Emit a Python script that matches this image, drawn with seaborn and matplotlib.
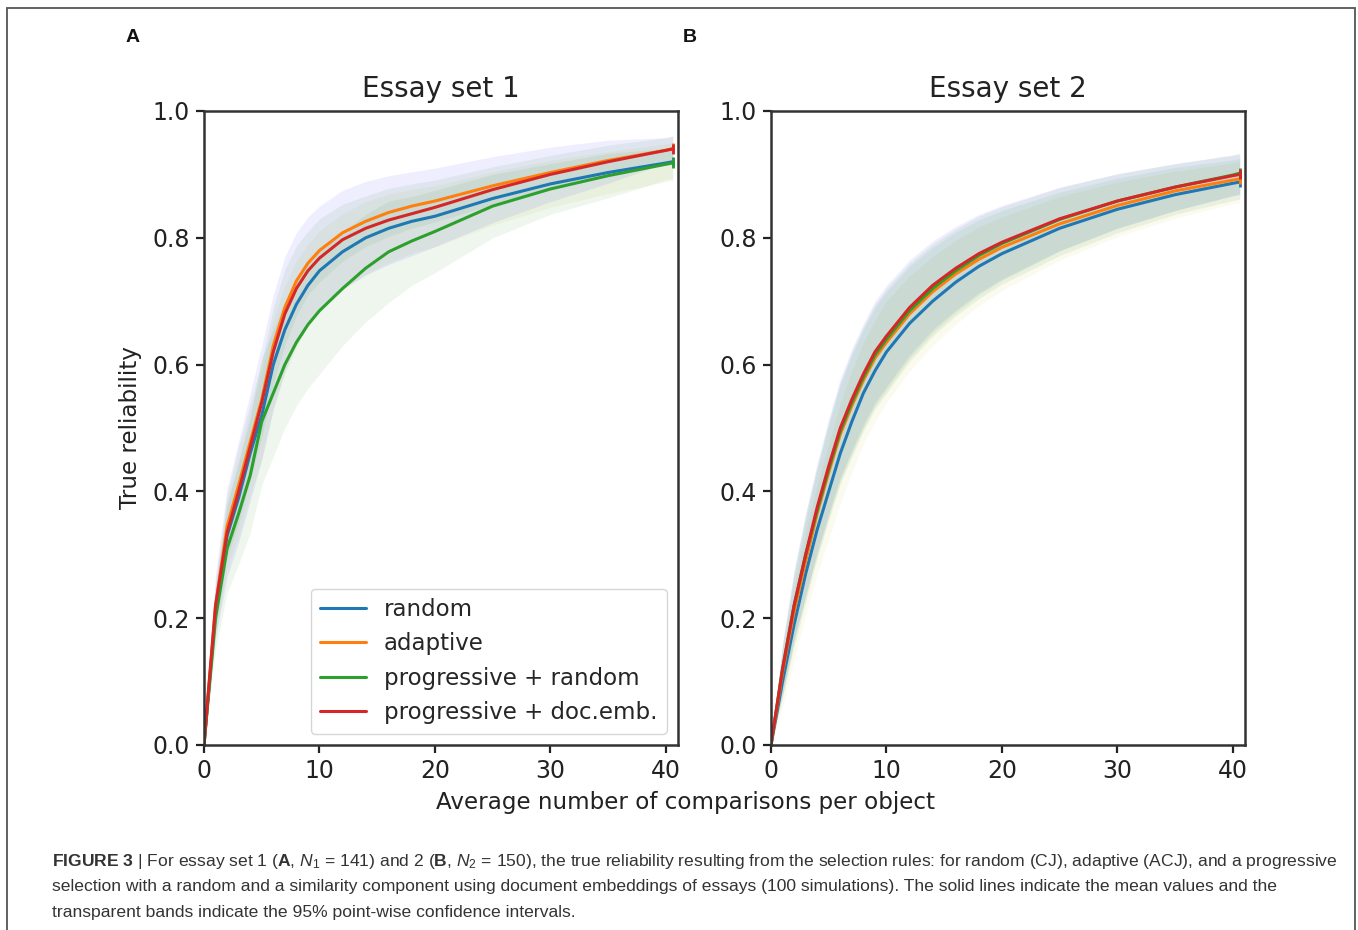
import matplotlib
matplotlib.use("Agg")
import matplotlib.pyplot as plt
import seaborn as sns
import pandas as pd
import numpy as np
from matplotlib.patches import Rectangle

# ---- data ----
methods = ["random", "adaptive", "progressive + random", "progressive + doc.emb."]
line_colors = ["#1f77b4", "#ff7f0e", "#2ca02c", "#d62728"]
band_colors = ["y", "g", "g", "b"]

x_grid = [0, 1, 2, 3, 4, 5, 6, 7, 8, 9, 10, 12, 14, 16, 18, 20, 25, 30, 35, 40, 40.6]

# Essay set 1 (mean true reliability)
set1_random = [0, 0.21, 0.33, 0.39, 0.46, 0.52, 0.60, 0.655, 0.695, 0.725, 0.748, 0.778, 0.80, 0.815, 0.826, 0.834, 0.862, 0.885, 0.903, 0.918, 0.92]
set1_adaptive = [0, 0.22, 0.345, 0.41, 0.478, 0.545, 0.63, 0.69, 0.732, 0.76, 0.78, 0.808, 0.826, 0.84, 0.85, 0.858, 0.882, 0.903, 0.922, 0.938, 0.941]
set1_prog_random = [0, 0.20, 0.31, 0.365, 0.425, 0.51, 0.555, 0.60, 0.635, 0.663, 0.685, 0.72, 0.752, 0.778, 0.795, 0.81, 0.85, 0.877, 0.898, 0.916, 0.918]
set1_prog_docemb = [0, 0.22, 0.335, 0.40, 0.47, 0.54, 0.62, 0.68, 0.72, 0.748, 0.768, 0.797, 0.815, 0.828, 0.838, 0.848, 0.876, 0.90, 0.92, 0.938, 0.94]

# Essay set 1 (half-width of 95% band)
set1_ci_random = [0, 0.04, 0.05, 0.06, 0.065, 0.07, 0.07, 0.07, 0.068, 0.065, 0.063, 0.06, 0.057, 0.054, 0.05, 0.048, 0.042, 0.037, 0.033, 0.03, 0.03]
set1_ci_adaptive = [0, 0.04, 0.05, 0.06, 0.06, 0.06, 0.06, 0.06, 0.055, 0.05, 0.05, 0.045, 0.04, 0.038, 0.035, 0.033, 0.03, 0.027, 0.024, 0.02, 0.02]
set1_ci_prog_random = [0, 0.05, 0.07, 0.08, 0.09, 0.10, 0.10, 0.10, 0.10, 0.10, 0.10, 0.09, 0.085, 0.08, 0.07, 0.065, 0.05, 0.04, 0.035, 0.025, 0.025]
set1_ci_prog_docemb = [0, 0.05, 0.07, 0.08, 0.085, 0.09, 0.09, 0.09, 0.088, 0.085, 0.082, 0.078, 0.074, 0.07, 0.066, 0.062, 0.052, 0.043, 0.034, 0.02, 0.02]

# Essay set 2 (mean true reliability)
set2_random = [0, 0.10, 0.19, 0.27, 0.34, 0.40, 0.46, 0.51, 0.555, 0.59, 0.62, 0.665, 0.70, 0.73, 0.755, 0.775, 0.815, 0.845, 0.868, 0.886, 0.888]
set2_adaptive = [0, 0.115, 0.21, 0.29, 0.365, 0.43, 0.49, 0.535, 0.575, 0.61, 0.635, 0.68, 0.715, 0.743, 0.766, 0.785, 0.822, 0.851, 0.874, 0.891, 0.893]
set2_prog_random = [0, 0.12, 0.22, 0.30, 0.37, 0.435, 0.495, 0.54, 0.58, 0.615, 0.64, 0.685, 0.72, 0.748, 0.772, 0.791, 0.829, 0.858, 0.88, 0.899, 0.902]
set2_prog_docemb = [0, 0.12, 0.22, 0.30, 0.375, 0.44, 0.50, 0.545, 0.585, 0.62, 0.645, 0.69, 0.725, 0.752, 0.775, 0.793, 0.83, 0.858, 0.88, 0.898, 0.90]

# Essay set 2 (half-width of 95% band, similar for all rules)
set2_ci = [0, 0.04, 0.055, 0.065, 0.07, 0.075, 0.078, 0.08, 0.08, 0.08, 0.08, 0.075, 0.07, 0.066, 0.062, 0.058, 0.05, 0.043, 0.037, 0.032, 0.032]

panels = [
    ("Essay set 1", [set1_random, set1_adaptive, set1_prog_random, set1_prog_docemb],
     [set1_ci_random, set1_ci_adaptive, set1_ci_prog_random, set1_ci_prog_docemb]),
    ("Essay set 2", [set2_random, set2_adaptive, set2_prog_random, set2_prog_docemb],
     [set2_ci, set2_ci, set2_ci, set2_ci]),
]

# ---- style ----
sns.set_style("ticks")
plt.rcParams['font.family'] = ['DejaVu Sans']
plt.rcParams['mathtext.fontset'] = 'custom'
plt.rcParams['mathtext.rm'] = 'Liberation Sans'
plt.rcParams['mathtext.it'] = 'Liberation Sans:italic'
plt.rcParams['mathtext.bf'] = 'Liberation Sans:bold'

W, H = 1358, 930
fig = plt.figure(figsize=(W / 100, H / 100), dpi=100)
fig.patch.set_facecolor("white")

ax_left = [204, 771]
ax_w, ax_top, ax_bot = 474, 111, 745

x = np.array(x_grid)
for i, (title, means, cis) in enumerate(panels):
    ax = fig.add_axes([ax_left[i] / W, 1 - ax_bot / H, ax_w / W, (ax_bot - ax_top) / H])

    # confidence bands
    for mean, ci, bc in zip(means, cis, band_colors):
        m, c = np.array(mean), np.array(ci)
        ax.fill_between(x, m - c, m + c, color=bc, alpha=0.065, lw=0)

    df = pd.DataFrame({
        "x": x_grid * len(methods),
        "reliability": sum(means, []),
        "method": np.repeat(methods, len(x_grid)),
    })
    sns.lineplot(data=df, x="x", y="reliability", hue="method", hue_order=methods,
                 palette=line_colors, linewidth=2.2, ax=ax, legend=(i == 0), errorbar=None)

    # small end marks of each line
    for mean, lc in zip(means, line_colors):
        ax.plot(x_grid[-1], mean[-1], marker="|", ms=7, mew=2, color=lc)

    ax.set_xlim(0, 41.05)
    ax.set_ylim(0, 1)
    ax.set_xticks([0, 10, 20, 30, 40])
    ax.set_yticks([0, 0.2, 0.4, 0.6, 0.8, 1.0])
    ax.set_yticklabels([f"{v:.1f}" for v in [0, 0.2, 0.4, 0.6, 0.8, 1.0]])
    ax.set_xlabel("")
    ax.set_ylabel("")
    ax.set_title(title, fontsize=20, pad=10, color="#222222")
    ax.tick_params(labelsize=17, length=6, width=1.6, colors="#222222", pad=4)
    for sp in ax.spines.values():
        sp.set_linewidth(1.8)
        sp.set_color("#333333")

    if i == 0:
        handles, labels = ax.get_legend_handles_labels()
        leg = ax.legend(handles, labels, loc="lower right", fontsize=16.5,
                        handlelength=2.0, labelspacing=0.5, frameon=True, fancybox=True)
        leg.get_frame().set_edgecolor("#cccccc")
        for h in leg.get_lines():
            h.set_linewidth(2.2)

# shared labels
fig.text(130 / W, 1 - 428 / H, "True reliability", rotation=90, ha="center", va="center",
         fontsize=16.6, color="#222222")
fig.text(686 / W, 1 - 802 / H, "Average number of comparisons per object", ha="center",
         va="center", fontsize=16.6, color="#222222")

# panel letters
for letter, px in [("A", 133), ("B", 690)]:
    fig.text(px / W, 1 - 37 / H, letter, ha="center", va="center", fontsize=14,
             fontweight="bold", family="Liberation Sans", color="#111111")

# caption
caption = [
    r"$\mathbf{FIGURE\ 3}$ | For essay set 1 ($\mathbf{A}$, $N_1$ = 141) and 2 ($\mathbf{B}$, $N_2$ = 150), "
    r"the true reliability resulting from the selection rules: for random (CJ), adaptive (ACJ), and a progressive",
    "selection with a random and a similarity component using document embeddings of essays (100 simulations). "
    "The solid lines indicate the mean values and the",
    "transparent bands indicate the 95% point-wise confidence intervals.",
]
for line, py in zip(caption, [861, 886, 912]):
    fig.text(52 / W, 1 - py / H, line, ha="left", va="center", fontsize=12.6,
             family="Liberation Sans", color="#333333")

# outer frame
frame = Rectangle((7 / W, -0.05), (1355 - 7) / W, (1 - 8 / H) + 0.05, transform=fig.transFigure,
                  fill=False, edgecolor="#555555", lw=1.3, clip_on=False)
fig.add_artist(frame)

fig.savefig("out.png", dpi=100)
